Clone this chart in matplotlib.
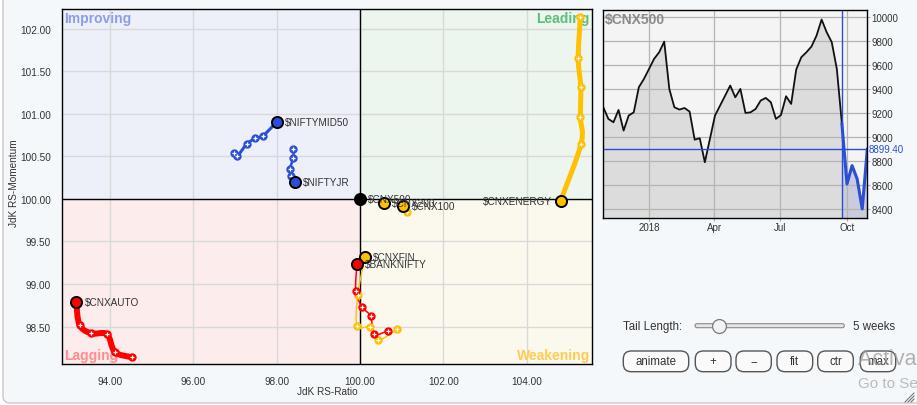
import matplotlib
matplotlib.use("Agg")
import matplotlib.pyplot as plt
import numpy as np
import pandas as pd
from matplotlib.path import Path
from matplotlib.patches import PathPatch, FancyBboxPatch, Rectangle
import matplotlib.transforms as mtransforms

plt.rcParams["font.family"] = ["Liberation Sans", "DejaVu Sans"]

# ---------------- RRG data (JdK RS-Ratio / RS-Momentum), oldest -> latest ----------------
midcap_x = [96.98, 97.05, 97.28, 97.48, 97.67, 98.00]
midcap_y = [100.54, 100.50, 100.64, 100.71, 100.74, 100.90]

niftyjr_x = [98.40, 98.40, 98.32, 98.35, 98.44]
niftyjr_y = [100.58, 100.48, 100.35, 100.27, 100.20]

energy_x = [105.29, 105.24, 105.30, 105.29, 105.31, 104.82]
energy_y = [102.14, 101.65, 101.31, 100.96, 100.65, 99.98]

cnxfin_x = [100.90, 100.43, 100.24, 99.93, 99.95, 100.12]
cnxfin_y = [98.47, 98.34, 98.49, 98.51, 98.87, 99.32]

banknifty_x = [100.67, 100.34, 100.26, 100.05, 99.90, 99.93]
banknifty_y = [98.45, 98.41, 98.62, 98.73, 98.92, 99.23]

auto_x = [94.52, 94.12, 93.93, 93.55, 93.27, 93.19]
auto_y = [98.14, 98.20, 98.41, 98.42, 98.52, 98.79]

cnx100_x = [101.13, 101.04]
cnx100_y = [99.85, 99.92]

cnx200_x = [100.58]
cnx200_y = [99.95]

cnx500_x = [100.0]
cnx500_y = [100.0]

x_ticks = [94, 96, 98, 100, 102, 104]
y_ticks = [98.5, 99.0, 99.5, 100.0, 100.5, 101.0, 101.5, 102.0]

# ---------------- $CNX500 weekly closes ----------------
week_start = "2017-10-30"
n_weeks = 53
closes = [9250, 9153, 9125, 9228, 9056, 9181, 9208, 9417, 9486, 9569, 9653, 9708,
          9797, 9403, 9250, 9231, 9244, 9214, 8980, 8992, 8792, 8986, 9181, 9264,
          9347, 9431, 9333, 9403, 9203, 9208, 9236, 9306, 9328, 9292, 9153, 9186,
          9342, 9278, 9564, 9667, 9708, 9756, 9847, 9981, 9875, 9792, 9569, 9111,
          8611, 8764, 8653, 8403, 8899.40]
tail_weeks = 5
price_ticks = [8400, 8600, 8800, 9000, 9200, 9400, 9600, 9800, 10000]
month_ticks = ["2018-01-01", "2018-04-01", "2018-07-01", "2018-10-01"]
month_labels = ["2018", "Apr", "Jul", "Oct"]

BLUE = "#2a4fd6"
RED = "#ff0000"
YELLOW = "#ffc000"
TXT = "#333333"

W, H = 917, 406
fig = plt.figure(figsize=(W / 100, H / 100), dpi=100)
fig.patch.set_facecolor("white")

# background panel in pixel coordinates
bg = fig.add_axes([0, 0, 1, 1], zorder=-1)
bg.set_xlim(0, W)
bg.set_ylim(H, 0)
bg.axis("off")
bg.add_patch(FancyBboxPatch((3, -40), W + 40, 444, boxstyle="round,pad=0,rounding_size=7",
                            fc="#f5f8fa", ec="#c8c8c8", lw=1))


def smooth_path(xs, ys):
    """Catmull-Rom curve through the points, expressed as cubic Bezier segments."""
    pts = np.column_stack([xs, ys]).astype(float)
    verts = [pts[0]]
    codes = [Path.MOVETO]
    n = len(pts)
    for i in range(n - 1):
        p0 = pts[max(i - 1, 0)]
        p1 = pts[i]
        p2 = pts[i + 1]
        p3 = pts[min(i + 2, n - 1)]
        c1 = p1 + (p2 - p0) / 6.0
        c2 = p2 - (p3 - p1) / 6.0
        verts += [c1, c2, p2]
        codes += [Path.CURVE4] * 3
    return Path(verts, codes)


# ---------------- main RRG axes ----------------
ax = fig.add_axes([62 / W, 1 - 365 / H, 530 / W, 355 / H])
ax.set_xlim(92.85, 105.57)
ax.set_ylim(98.06, 102.23)

quad = [((80, 100), 20, 10, "#eef0f9"),   # improving
        ((100, 100), 20, 10, "#ecf5ee"),  # leading
        ((80, 90), 20, 10, "#fdecec"),    # lagging
        ((100, 90), 20, 10, "#fbf9ee")]   # weakening
for (x0, y0), w, h, c in quad:
    ax.add_patch(Rectangle((x0, y0), w, h, fc=c, ec="none", zorder=0))

ax.set_xticks(x_ticks)
ax.set_yticks(y_ticks)
ax.set_xticklabels([f"{v:.2f}" for v in x_ticks])
ax.set_yticklabels([f"{v:.2f}" for v in y_ticks])
ax.tick_params(length=0, labelsize=7.2, labelcolor=TXT)
ax.tick_params(axis="x", pad=8.5)
ax.tick_params(axis="y", pad=8)
ax.grid(True, color="#d9d9d9", lw=1, zorder=1)
ax.set_axisbelow(True)
for s in ax.spines.values():
    s.set_color("black")
    s.set_linewidth(1)
ax.axvline(100, color="black", lw=1, zorder=2)
ax.axhline(100, color="black", lw=1, zorder=2)

qkw = dict(transform=ax.transAxes, fontsize=10, fontweight="bold", zorder=2)
ax.text(0.004, 0.994, "Improving", color="#8c9ee8", ha="left", va="top", **qkw)
ax.text(0.996, 0.994, "Leading", color="#5cbf7d", ha="right", va="top", **qkw)
ax.text(0.004, 0.006, "Lagging", color="#ff8c8c", ha="left", va="bottom", **qkw)
ax.text(0.996, 0.006, "Weakening", color="#ffcc4d", ha="right", va="bottom", **qkw)

# axis titles
bg.text(327, 392.5, "JdK RS-Ratio", ha="center", va="center", fontsize=7.2, color=TXT)
bg.text(14, 183, "JdK RS-Momentum", ha="center", va="center", rotation=90,
        fontsize=7.2, color=TXT)

series = [
    ("$CNXAUTO", auto_x, auto_y, RED, 4.3, "right"),
    ("$NIFTYMID50", midcap_x, midcap_y, BLUE, 2.2, "right"),
    ("$NIFTYJR", niftyjr_x, niftyjr_y, BLUE, 1.8, "right"),
    ("$CNXENERGY", energy_x, energy_y, YELLOW, 3.6, "left"),
    ("$CNXFIN", cnxfin_x, cnxfin_y, YELLOW, 1.0, "right"),
    ("$BANKNIFTY", banknifty_x, banknifty_y, RED, 1.1, "right"),
    ("$CNX100", cnx100_x, cnx100_y, YELLOW, 1.0, "right"),
    ("$CNX200", cnx200_x, cnx200_y, YELLOW, 1.0, "right"),
    ("$CNX500", cnx500_x, cnx500_y, "black", 1.0, "right"),
]

for name, xs, ys, c, lw, side in series:
    if len(xs) > 1:
        ax.add_patch(PathPatch(smooth_path(xs, ys), fill=False, ec=c, lw=lw,
                               capstyle="round", joinstyle="round", zorder=3))
        ax.plot(xs[:-1], ys[:-1], "o", ms=5, color=c, mec=c, zorder=4)
        ax.plot(xs[:-1], ys[:-1], "+", ms=3.4, mew=0.9, color="white", zorder=5)
    ax.plot(xs[-1], ys[-1], "o", ms=8, mfc=c, mec="black", mew=1.4, zorder=6)
    off = (6, 0) if side == "right" else (-6, 0)
    ax.annotate(name, (xs[-1], ys[-1]), xytext=off, textcoords="offset points",
                ha="left" if side == "right" else "right", va="center",
                fontsize=7.2, color=TXT, zorder=7)

# ---------------- $CNX500 price panel ----------------
dates = pd.date_range(week_start, periods=n_weeks, freq="7D")
cut = n_weeks - 1 - tail_weeks
ymin, ymax = 8325, 10063

ax2 = fig.add_axes([603.3 / W, 1 - 219.3 / H, 264 / W, 208.6 / H])
ax2.set_facecolor("#f4f4f4")
ax2.set_xlim(dates[0], dates[-1])
ax2.set_ylim(ymin, ymax)
ax2.fill_between(dates[:cut + 1], closes[:cut + 1], ymin, color="#dcdcdc", lw=0, zorder=1)
ax2.fill_between(dates[cut:], closes[cut:], ymin, color="#c9ccdb", lw=0, zorder=1)
ax2.plot(dates[:cut + 1], closes[:cut + 1], color="#111111", lw=1.3, zorder=3)
ax2.plot(dates[cut:], closes[cut:], color=BLUE, lw=2.2, zorder=3)
ax2.axvline(dates[cut], color=BLUE, lw=1, zorder=4)
ax2.axhline(closes[-1], color=BLUE, lw=1, zorder=4)

ax2.yaxis.tick_right()
ax2.set_yticks(price_ticks)
ax2.set_yticklabels([str(v) for v in price_ticks])
ax2.set_xticks(pd.to_datetime(month_ticks))
ax2.set_xticklabels(month_labels)
ax2.tick_params(length=2, color="#aaaaaa", labelsize=7, labelcolor=TXT, pad=0.8)
ax2.grid(True, color="#b4b4b4", lw=0.9, zorder=2)
ax2.set_axisbelow(False)
for s in ax2.spines.values():
    s.set_color("black")
    s.set_linewidth(1)
    s.set_zorder(5)

ax2.text(0.006, 0.99, "$CNX500", transform=ax2.transAxes, ha="left", va="top",
         fontsize=10, fontweight="bold", color="#8a8a8a", zorder=6)
trans = mtransforms.blended_transform_factory(ax2.transAxes, ax2.transData)
ax2.text(1.006, closes[-1], f"{closes[-1]:.2f}", transform=trans, ha="left", va="center",
         fontsize=7, color=BLUE, clip_on=False)

# ---------------- controls ----------------
bg.text(622.7, 326.7, "Tail Length:", ha="left", va="center", fontsize=8.3, color=TXT)
bg.add_patch(FancyBboxPatch((695, 324.7), 149.3, 4, boxstyle="round,pad=0,rounding_size=2",
                            fc="#e6e6e6", ec="#8a8a8a", lw=0.8))
bg.plot(719, 326.7, "o", ms=10, mfc="#f3f3f3", mec="#7a7a7a", mew=0.9)
bg.text(852.7, 326.7, "5 weeks", ha="left", va="center", fontsize=8.3, color=TXT)

buttons = [("animate", 623.3, 688.7), ("+", 695.3, 731.0), ("\u2212", 736.0, 771.3),
           ("fit", 777.0, 812.7), ("ctr", 817.7, 853.3), ("max", 860.3, 895.7)]
by0, by1 = 352.0, 372.7
for label, x0, x1 in buttons:
    bg.add_patch(FancyBboxPatch((x0, by0), x1 - x0, by1 - by0,
                                boxstyle="round,pad=0,rounding_size=8",
                                fc="#fafafa", ec="#555555", lw=1))
    bg.text((x0 + x1) / 2, (by0 + by1) / 2, label, ha="center", va="center",
            fontsize=8.3, color=TXT)

bg.text(858, 360, "Activate Windows", ha="left", va="center", fontsize=15.5,
        color="#9a9a9a", alpha=0.75)
bg.text(858, 384, "Go to Settings to activate Windows.", ha="left", va="center",
        fontsize=11, color="#b0b0b0", alpha=0.85)
for k in range(3):
    d = 3 + 3 * k
    bg.plot([914 - d, 914], [403, 403 - d], color="#777777", lw=0.8)

fig.savefig("out.png", dpi=100, facecolor=fig.get_facecolor())
